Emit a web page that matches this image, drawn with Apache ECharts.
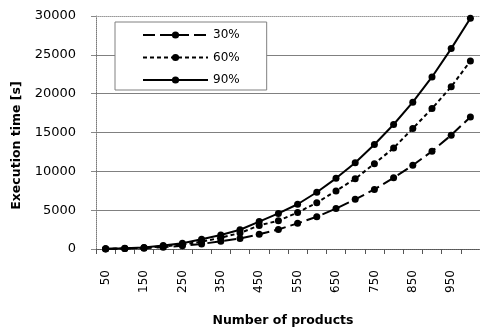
<!DOCTYPE html>
<html><head><meta charset="utf-8">
<script src="https://cdn.jsdelivr.net/npm/echarts@6/dist/echarts.min.js"></script>
<style>html,body{margin:0;padding:0;background:#fff}#c{width:480px;height:332px}</style>
</head><body><div id="c"></div>
<script>
const categories = ['50','100','150','200','250','300','350','400','450','500','550','600','650','700','750','800','850','900','950','1000'];
const s30 = [10, 50, 110, 230, 420, 650, 1000, 1350, 1890, 2520, 3300, 4160, 5210, 6390, 7670, 9180, 10780, 12580, 14660, 17000];
const s60 = [20, 70, 150, 330, 580, 950, 1450, 2060, 3030, 3650, 4700, 5960, 7480, 9040, 10980, 13000, 15520, 18090, 20890, 24200];
const s90 = [30, 100, 200, 450, 750, 1250, 1800, 2480, 3530, 4580, 5760, 7310, 9100, 11100, 13450, 16030, 18900, 22150, 25800, 29700];
const yTicks = { min: 0, max: 30000, interval: 5000 };
const names = ['30%', '60%', '90%'];

const font = 'DejaVu Sans';
const chart = echarts.init(document.getElementById('c'), null, { renderer: 'canvas' });
function ser(name, data, type) {
  return {
    name, type: 'line', data, xAxisIndex: 0,
    symbol: 'circle', symbolSize: 7,
    itemStyle: { color: '#000' },
    lineStyle: { color: '#000', width: 2, type },
    animation: false
  };
}
chart.setOption({
  animation: false,
  grid: { left: 96, top: 16, right: -8, bottom: 78, containLabel: false },
  legend: {
    orient: 'vertical', left: 115, top: 22,
    backgroundColor: '#fff', borderColor: '#808080', borderWidth: 1,
    padding: [7, 27, 4, 27], itemGap: 10.5,
    itemWidth: 65, itemHeight: 9,
    textStyle: { fontFamily: font, fontSize: 12, color: '#000' },
    data: names
  },
  xAxis: [{
    type: 'category', data: categories, boundaryGap: true,
    axisLine: { lineStyle: { color: '#555', type: 'dotted', width: 1 } },
    axisTick: { show: true, interval: 0, length: 5, lineStyle: { color: '#555' } },
    axisLabel: { interval: 1, rotate: 90, margin: 21, fontFamily: font, fontSize: 12, color: '#000' },
    name: 'Number of products', nameLocation: 'middle', nameGap: 65,
    nameTextStyle: { fontFamily: font, fontSize: 12.5, fontWeight: 'bold', color: '#000', padding: [0, 10, 0, 0] }
  }, {
    type: 'category', data: categories, position: 'top',
    axisLine: { show: true, lineStyle: { color: '#999', type: 'dotted', width: 1 } },
    axisTick: { show: false }, axisLabel: { show: false }
  }],
  yAxis: {
    type: 'value', min: yTicks.min, max: yTicks.max, interval: yTicks.interval,
    axisLine: { show: true, lineStyle: { color: '#777', type: 'dotted' } },
    axisTick: { show: true, length: 5, lineStyle: { color: '#888' } },
    axisLabel: { margin: 20, fontFamily: font, fontSize: 13, color: '#000', formatter: v => String(v) },
    splitLine: { show: true, showMaxLine: false, lineStyle: { color: '#808080', width: 1 } },
    name: 'Execution time [s]', nameLocation: 'middle', nameGap: 70,
    nameTextStyle: { fontFamily: font, fontSize: 12.5, fontWeight: 'bold', color: '#000', padding: [0, 26, 0, 0] }
  },
  series: [ser(names[0], s30, [12, 5]), ser(names[1], s60, [4, 3]), ser(names[2], s90, 'solid')]
});
</script></body></html>
